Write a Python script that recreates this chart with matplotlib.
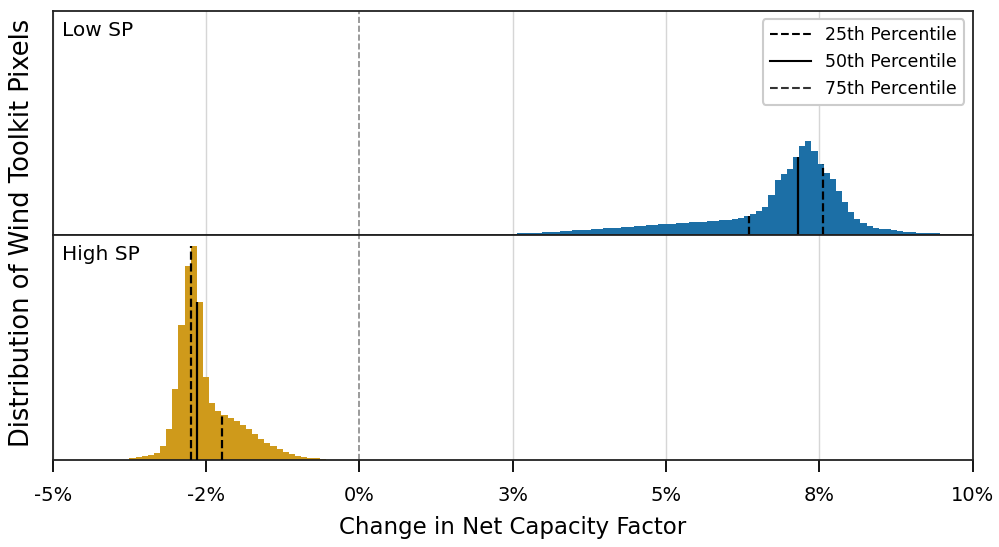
import numpy as np
from matplotlib import pyplot as plt
from matplotlib.lines import Line2D

# histogram counts (bin width 0.1 percentage points)
low_sp_start = 2.47
low_sp_counts = [1.6, 1.9, 2.2, 2.5, 2.8, 3.1, 3.4, 3.8, 4.2, 4.6,
                 4.9, 5.3, 5.7, 6.1, 6.5, 6.9, 7.3, 7.7, 8.2, 8.6,
                 9.0, 9.5, 10.0, 10.5, 10.9, 11.3, 11.7, 12.1, 12.5, 12.9,
                 13.3, 13.7, 14.1, 14.5, 14.9, 15.3, 15.9, 17.2, 19.0, 21.3,
                 24.0, 28.7, 39.7, 54.7, 61.3, 66.3, 78.0, 89.0, 94.0, 83.7,
                 71.3, 62.3, 55.7, 43.7, 33.0, 23.0, 16.3, 12.0, 9.2, 7.6,
                 6.7, 6.0, 5.2, 4.6, 3.8, 3.2, 2.8, 2.5, 2.2, 1.9,
                 1.7, 1.5, 1.3]
high_sp_start = -3.75
high_sp_counts = [2.4, 3.5, 4.0, 4.7, 7.3, 14.0, 31.0, 71.0, 134.0, 193.0,
                  213.0, 157.0, 83.0, 57.0, 49.0, 45.0, 42.0, 39.0, 35.0, 31.0,
                  26.0, 21.0, 17.0, 13.5, 11.0, 7.8, 5.8, 4.2, 3.0, 2.3,
                  1.8, 1.5]
bin_width = 0.1

low_sp_pct = [6.355, 7.157, 7.56]
high_sp_pct = [-2.745, -2.64, -2.237]

xticks = [-5, -2.5, 0, 2.5, 5, 7.5, 10]
xticklabels = ['-5%', '-2%', '0%', '3%', '5%', '8%', '10%']

blue = '#1c6fa6'
gold = '#cf9a1b'

fig, (ax1, ax2) = plt.subplots(2, 1, figsize=(9.99, 5.47), dpi=100, sharex=True, sharey=True)
fig.subplots_adjust(left=0.0528, right=0.9737, top=0.9804, bottom=0.159, hspace=0)

panels = [(ax1, low_sp_start, low_sp_counts, low_sp_pct, blue, 'Low SP'),
          (ax2, high_sp_start, high_sp_counts, high_sp_pct, gold, 'High SP')]

for ax, start, counts, pct, color, name in panels:
    counts = np.array(counts)
    edges = start + bin_width * np.arange(len(counts) + 1)
    ax.hist(edges[:-1] + bin_width / 2, bins=edges, weights=counts, color=color, zorder=2)
    # percentile lines run up to the bar they fall in
    idx = np.searchsorted(edges, pct, side='right') - 1
    heights = counts[idx]
    ax.vlines(pct[0], 0, heights[0], colors='k', linestyles='--', lw=1.6, zorder=3)
    ax.vlines(pct[1], 0, heights[1], colors='k', linestyles='-', lw=1.6, zorder=3)
    ax.vlines(pct[2], 0, heights[2], colors='k', linestyles='--', lw=1.6, zorder=3)
    for t in xticks:
        if t != 0:
            ax.axvline(t, color='#d6d6d6', lw=1, zorder=0)
    ax.axvline(0, color='#8a8a8a', ls='--', lw=1.2, zorder=1)
    ax.text(0.01, 0.955, name, transform=ax.transAxes, fontsize=14.5, va='top', ha='left')
    ax.set_yticks([])
    for s in ax.spines.values():
        s.set_linewidth(1.3)
        s.set_color('#222222')

ymax = max(max(low_sp_counts), max(high_sp_counts)) * 1.05
ax2.set_ylim(0, ymax)
ax2.set_xlim(-5, 10)
ax2.set_xticks(xticks)
ax2.set_xticklabels(xticklabels)
ax1.tick_params(axis='x', length=0)
ax2.tick_params(axis='x', direction='out', length=8.5, width=1.3, labelsize=14, pad=10)
ax2.set_xlabel('Change in Net Capacity Factor', fontsize=16.5, labelpad=8)
fig.text(0.022, 0.575, 'Distribution of Wind Toolkit Pixels', rotation=90, fontsize=18.5,
         ha='center', va='center')

handles = [Line2D([], [], color='k', ls='--', lw=1.5),
           Line2D([], [], color='k', ls='-', lw=1.5),
           Line2D([], [], color='#333333', ls='--', lw=1.5)]
labels = ['25th Percentile', '50th Percentile', '75th Percentile']
leg = ax1.legend(handles, labels, loc='upper right', fontsize=12.5, framealpha=1,
                 edgecolor='#cccccc', borderaxespad=0.5, handlelength=2.4)
leg.get_frame().set_linewidth(1.5)

plt.savefig('out.png')
